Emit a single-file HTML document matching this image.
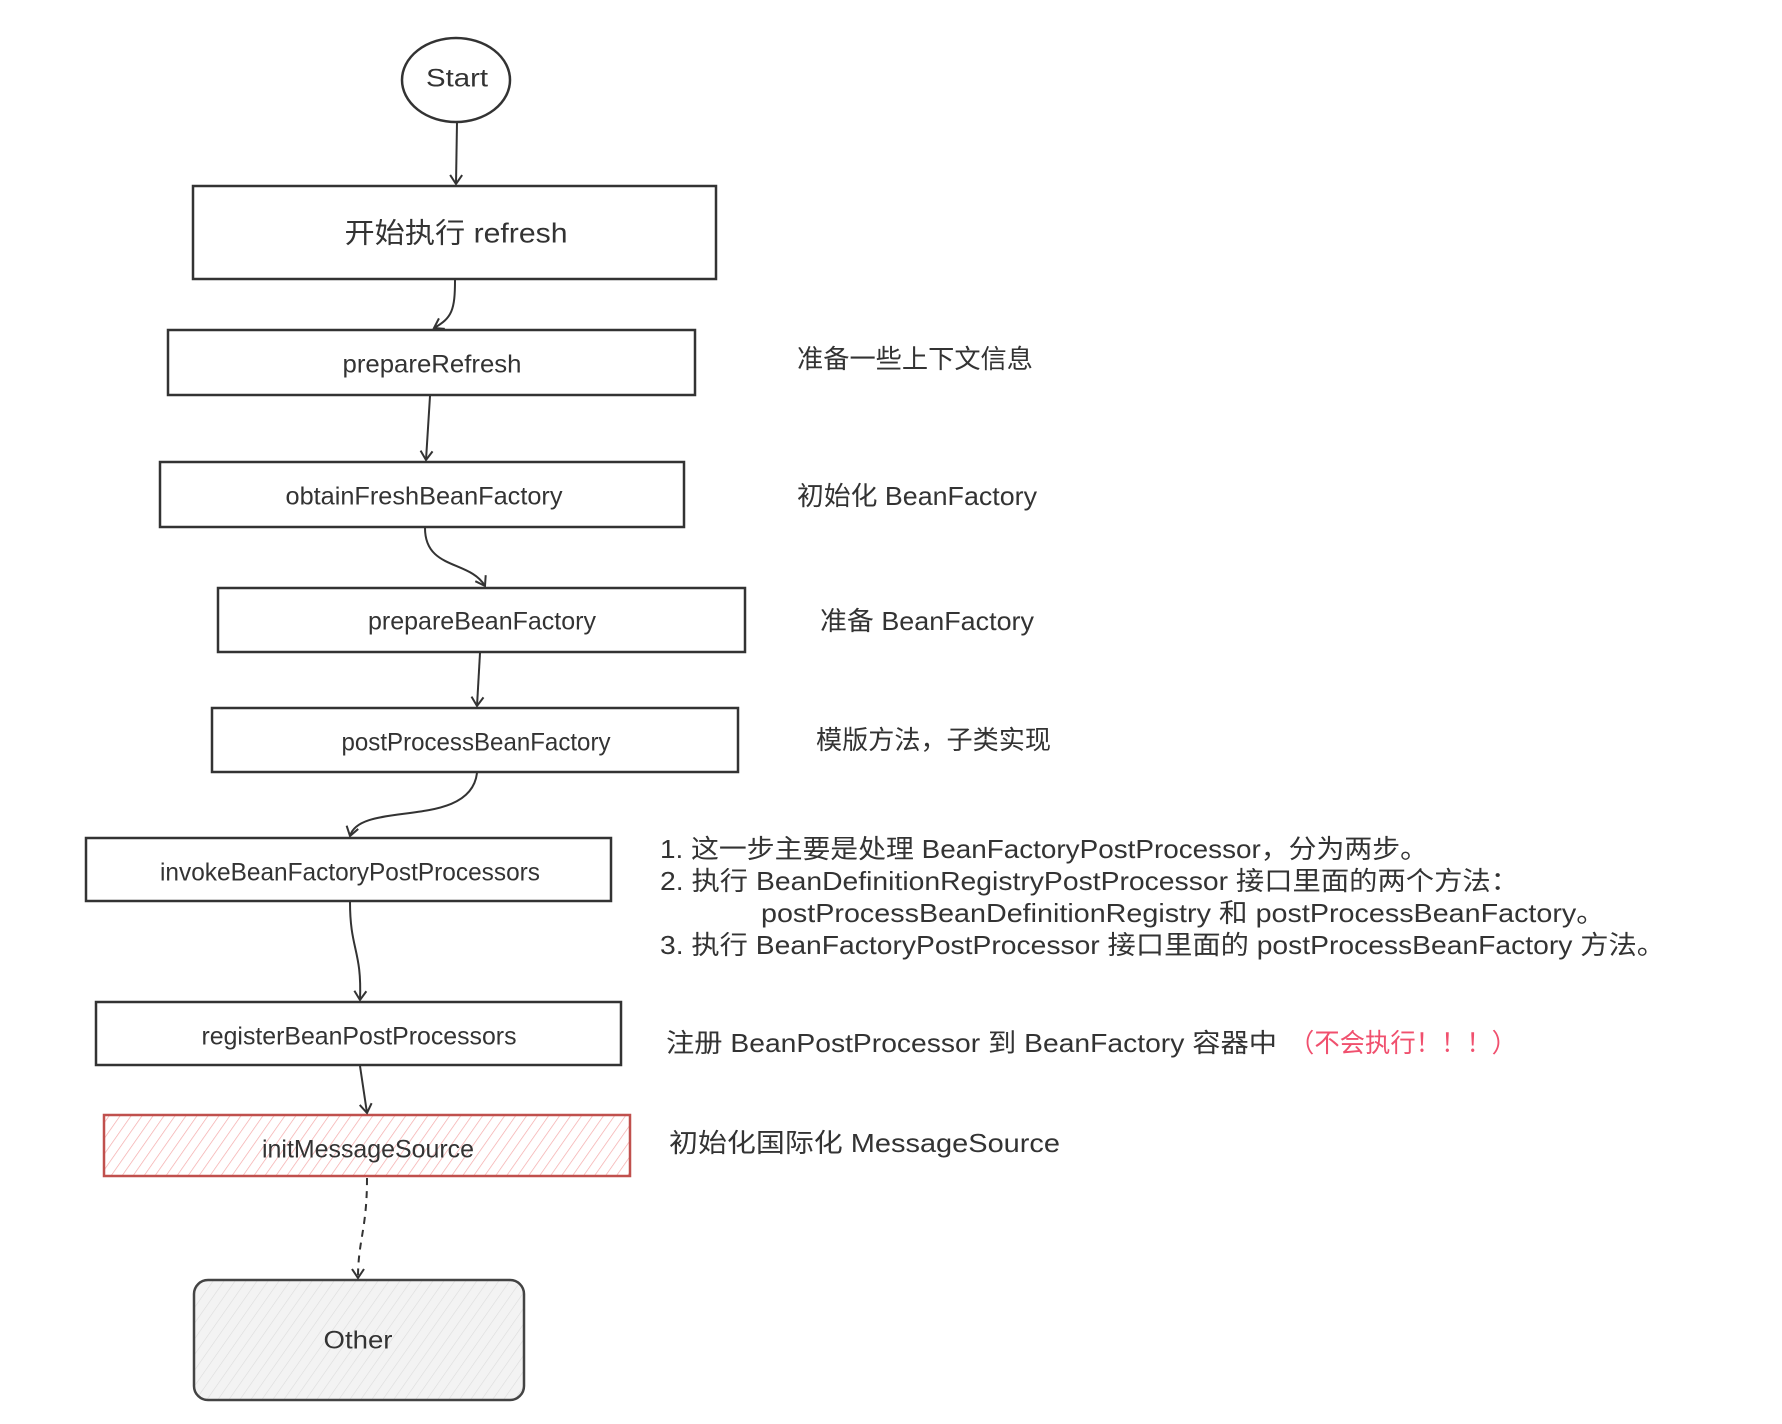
<!DOCTYPE html>
<html><head><meta charset="utf-8"><style>
html,body{margin:0;padding:0;background:#fff;}
svg{display:block;}
text{font-family:"Liberation Sans","Noto Sans CJK SC",sans-serif;fill:#333;}
</style></head><body>
<svg width="1782" height="1424" viewBox="0 0 1782 1424" xmlns="http://www.w3.org/2000/svg">
<defs>
<pattern id="hr" width="9" height="9" patternUnits="userSpaceOnUse" patternTransform="rotate(35)">
<line x1="0" y1="0" x2="0" y2="9" stroke="#f4a9a9" stroke-width="1.4"/>
</pattern>
<pattern id="hg" width="9" height="9" patternUnits="userSpaceOnUse" patternTransform="rotate(35)">
<line x1="0" y1="0" x2="0" y2="9" stroke="#dcdcdc" stroke-width="1.2"/>
</pattern>
<marker id="ar" markerWidth="14" markerHeight="14" refX="10" refY="7" orient="auto" markerUnits="userSpaceOnUse">
<path d="M1,1 L10,7 L1,13" fill="none" stroke="#333" stroke-width="2"/>
</marker>
</defs>
<g fill="none" stroke="#333" stroke-width="2.5">
<ellipse cx="456" cy="80" rx="54" ry="42"/>
<rect x="193" y="186" width="523" height="93"/>
<rect x="168" y="330" width="527" height="65"/>
<rect x="160" y="462" width="524" height="65"/>
<rect x="218" y="588" width="527" height="64"/>
<rect x="212" y="708" width="526" height="64"/>
<rect x="86" y="838" width="525" height="63"/>
<rect x="96" y="1002" width="525" height="63"/>
</g>
<rect x="104" y="1115" width="526" height="61" fill="url(#hr)" stroke="#c0504d" stroke-width="2.5"/>
<rect x="194" y="1280" width="330" height="120" rx="14" fill="#f3f3f3" stroke="none"/>
<rect x="194" y="1280" width="330" height="120" rx="14" fill="url(#hg)" stroke="#444" stroke-width="2.5"/>
<g fill="none" stroke="#333" stroke-width="2" marker-end="url(#ar)">
<path d="M457,122 L456,184"/>
<path d="M455,280 C455,310 452,318 434,328"/>
<path d="M430,396 L426,460"/>
<path d="M425,528 C425,570 470,560 485,586"/>
<path d="M480,653 L477,706"/>
<path d="M477,773 C470,830 360,800 350,836"/>
<path d="M350,902 C350,950 362,950 360,1000"/>
<path d="M360,1066 L367,1113"/>
<path d="M367,1178 C367,1230 358,1240 358,1278" stroke-dasharray="7,6"/>
</g>
<g font-size="25" text-anchor="middle" dominant-baseline="middle">
<text x="457" y="80" textLength="62" lengthAdjust="spacingAndGlyphs">Start</text>
<text x="456" y="235" font-size="28" textLength="223" lengthAdjust="spacingAndGlyphs">开始执行 refresh</text>
<text x="432" y="366" textLength="179" lengthAdjust="spacingAndGlyphs">prepareRefresh</text>
<text x="424" y="498" textLength="277" lengthAdjust="spacingAndGlyphs">obtainFreshBeanFactory</text>
<text x="482" y="623" textLength="228" lengthAdjust="spacingAndGlyphs">prepareBeanFactory</text>
<text x="476" y="744" textLength="269" lengthAdjust="spacingAndGlyphs">postProcessBeanFactory</text>
<text x="350" y="874" textLength="380" lengthAdjust="spacingAndGlyphs">invokeBeanFactoryPostProcessors</text>
<text x="359" y="1038" textLength="315" lengthAdjust="spacingAndGlyphs">registerBeanPostProcessors</text>
<text x="368" y="1151" textLength="212" lengthAdjust="spacingAndGlyphs">initMessageSource</text>
<text x="358" y="1342" textLength="69" lengthAdjust="spacingAndGlyphs">Other</text>
</g>
<g font-size="26" dominant-baseline="middle">
<text x="797" y="361" textLength="236" lengthAdjust="spacingAndGlyphs">准备一些上下文信息</text>
<text x="797" y="498" textLength="240" lengthAdjust="spacingAndGlyphs">初始化 BeanFactory</text>
<text x="820" y="623" textLength="214" lengthAdjust="spacingAndGlyphs">准备 BeanFactory</text>
<text x="816" y="742" textLength="235" lengthAdjust="spacingAndGlyphs">模版方法，子类实现</text>
<text x="660" y="851" textLength="768" lengthAdjust="spacingAndGlyphs">1. 这一步主要是处理 BeanFactoryPostProcessor，分为两步。</text>
<text x="660" y="883" textLength="859" lengthAdjust="spacingAndGlyphs">2. 执行 BeanDefinitionRegistryPostProcessor 接口里面的两个方法：</text>
<text x="761" y="915" textLength="844" lengthAdjust="spacingAndGlyphs">postProcessBeanDefinitionRegistry 和 postProcessBeanFactory。</text>
<text x="660" y="947" textLength="1005" lengthAdjust="spacingAndGlyphs">3. 执行 BeanFactoryPostProcessor 接口里面的 postProcessBeanFactory 方法。</text>
<text x="666" y="1045" textLength="611" lengthAdjust="spacingAndGlyphs">注册 BeanPostProcessor 到 BeanFactory 容器中</text>
<text x="1289" y="1045" textLength="228" lengthAdjust="spacingAndGlyphs" style="fill:#f0506e">（不会执行！！！）</text>
<text x="669" y="1145" textLength="391" lengthAdjust="spacingAndGlyphs">初始化国际化  MessageSource</text>
</g>
</svg>
</body></html>
